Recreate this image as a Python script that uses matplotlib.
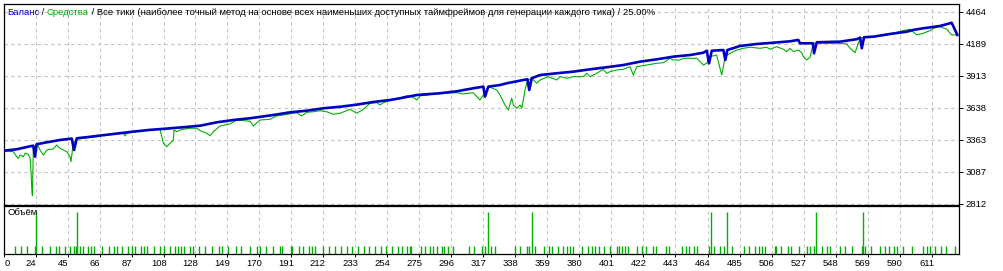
import matplotlib
matplotlib.use("Agg")
import matplotlib.pyplot as plt
import matplotlib.transforms as mtransforms

plt.rcParams['font.family'] = ['Liberation Sans', 'DejaVu Sans']

# balance curve (trade number, deposit)
bal_trade = [3, 11.3, 21.2, 22.2, 23.3, 24.4, 31, 39.7, 47.4, 48.9,
             50.7, 57.2, 65.9, 76.9, 87.7, 98.7, 109.6, 120.5, 131.5, 142.4,
             153.3, 164.2, 168.6, 179.5, 190.4, 201.4, 212.3, 223.2, 234.1, 245,
             256, 262.5, 273.5, 288.7, 299.7, 310.5, 317.1, 318.2, 320.4, 328,
             332.4, 343.3, 346, 347.2, 348.8, 354.3, 365.2, 376.1, 387, 398,
             408.9, 419.8, 430.7, 441.6, 452.6, 461.3, 463.5, 465, 466.8, 474.4,
             475.7, 477, 485.3, 496.3, 507.1, 518.1, 523.5, 524.6, 533.1, 533.8,
             535.6, 550.8, 561.8, 564, 565.1, 566.6, 572.7, 583.6, 594.6, 598.9,
             605.4, 616.4, 622.9, 624, 627.7]
bal_value = [3268, 3280, 3309, 3311, 3217, 3323, 3340, 3360, 3372, 3274,
             3375, 3384, 3398, 3415, 3432, 3447, 3458, 3470, 3483, 3512,
             3532, 3547, 3555, 3575, 3598, 3612, 3633, 3646, 3664, 3687,
             3704, 3719, 3747, 3762, 3779, 3805, 3819, 3733, 3819, 3833,
             3848, 3876, 3882, 3790, 3891, 3919, 3934, 3948, 3968, 3986,
             4005, 4034, 4054, 4077, 4091, 4111, 4128, 4020, 4128, 4134,
             4048, 4134, 4169, 4186, 4197, 4209, 4221, 4192, 4192, 4106,
             4201, 4206, 4227, 4240, 4149, 4244, 4249, 4272, 4292, 4307,
             4321, 4341, 4364, 4369, 4264]

# equity curve
eq_trade = [3, 9.1, 11.3, 12.4, 13.5, 15.7, 16.8, 18.9, 20.1, 20.7,
            21.2, 21.6, 22.2, 23.3, 24.4, 26.6, 28.8, 31, 33.2, 35.3,
            37.5, 39.7, 41.9, 44.1, 46.3, 46.9, 48.4, 50.7, 57.2, 63.8,
            65.9, 72.5, 76.9, 81.2, 82.3, 83.4, 87.7, 98.7, 105.2, 106.8,
            107.4, 109.6, 111.8, 114, 114.4, 116.2, 118.3, 120.5, 124.9, 129.3,
            131.5, 135.8, 138, 140.2, 144.6, 151.1, 155.5, 164.2, 166.4, 170.8,
            177.3, 181.7, 186.1, 194.8, 197, 198.1, 201.4, 205.7, 210.1, 214.5,
            218.8, 223.2, 227.6, 229.8, 234.1, 238.5, 242.9, 247.2, 249.4, 251.6,
            258.1, 262.5, 266.9, 271.2, 273.5, 275.6, 280, 288.7, 299.7, 304,
            310.5, 314.9, 317.1, 320.4, 321.5, 325.9, 328, 331.3, 333.5, 335.7,
            336.8, 339, 341.2, 342.3, 343.3, 344.4, 345.5, 346.6, 348.8, 352.1,
            354.3, 359.7, 365.2, 367.4, 371.8, 376.1, 382.6, 384.9, 387, 391.4,
            395.7, 398, 400.1, 404.5, 408.9, 413.2, 415.4, 417.6, 424.2, 430.7,
            435.1, 439.5, 441.6, 446, 448.2, 456.9, 461.3, 463.5, 465.7, 470,
            472.2, 473.3, 474.4, 475.5, 478.8, 483.2, 487.5, 491.9, 498.4, 502.8,
            505, 509.4, 513.7, 515.9, 518.1, 520.3, 523.5, 525.7, 526.8, 529,
            531.2, 532.3, 533.4, 535.6, 539.9, 550.8, 555.2, 557.4, 560.7, 562.8,
            564, 566.1, 572.7, 583.6, 592.3, 596.7, 601.1, 605.4, 609.8, 612,
            616.4, 620.8, 624, 627.3]
eq_value = [3268, 3259, 3216, 3202, 3231, 3216, 3246, 3237, 3202, 3087,
            2944, 2881, 3274, 3302, 3331, 3274, 3231, 3274, 3280, 3283,
            3317, 3288, 3274, 3259, 3216, 3173, 3331, 3366, 3380, 3388,
            3403, 3409, 3418, 3418, 3395, 3418, 3429, 3447, 3452, 3366,
            3332, 3302, 3332, 3360, 3446, 3431, 3446, 3452, 3461, 3461,
            3440, 3418, 3397, 3431, 3481, 3498, 3532, 3521, 3481, 3532,
            3538, 3567, 3575, 3595, 3575, 3567, 3598, 3603, 3612, 3603,
            3581, 3590, 3612, 3624, 3590, 3624, 3676, 3681, 3661, 3681,
            3710, 3719, 3741, 3727, 3704, 3739, 3747, 3762, 3767, 3756,
            3767, 3704, 3747, 3819, 3814, 3790, 3747, 3661, 3618, 3719,
            3661, 3633, 3661, 3633, 3704, 3790, 3848, 3876, 3891, 3848,
            3876, 3905, 3876, 3905, 3891, 3905, 3905, 3934, 3905, 3934,
            3968, 3934, 3948, 3962, 3968, 3991, 3919, 3991, 4005, 4020,
            4025, 4063, 4048, 4048, 4063, 4063, 4005, 4020, 4077, 4091,
            3977, 3919, 3991, 4077, 4106, 4134, 4149, 4158, 4149, 4158,
            4141, 4163, 4141, 4120, 4149, 4120, 4134, 4111, 4077, 4048,
            4072, 4134, 4192, 4192, 4192, 4192, 4186, 4149, 4111, 4192,
            4235, 4244, 4249, 4272, 4301, 4313, 4264, 4278, 4301, 4321,
            4335, 4313, 4264, 4264]

# volume (lots) per trade
vol_small_trades = [10, 14, 18, 23, 28, 33, 37, 39, 43, 46, 49, 50, 53, 55, 58, 60, 62, 67,
                    72, 75, 77, 80, 84, 87, 89, 93, 95, 97, 101, 105, 108, 112, 115, 117,
                    119, 121, 125, 127, 131, 135, 139, 144, 146, 150, 155, 158, 164, 169,
                    171, 175, 179, 184, 185, 191, 192, 196, 199, 203, 205, 207, 212, 216,
                    220, 224, 228, 231, 235, 239, 242, 246, 250, 253, 257, 261, 264, 267,
                    269, 270, 276, 279, 282, 284, 287, 290, 291, 294, 297, 308, 311, 316,
                    318, 322, 325, 338, 341, 346, 347, 351, 357, 360, 362, 366, 369, 372,
                    374, 376, 382, 386, 388, 390, 393, 396, 400, 405, 406, 408, 410, 412,
                    418, 421, 424, 428, 430, 437, 439, 447, 450, 452, 455, 457, 465, 468,
                    472, 475, 480, 488, 491, 495, 498, 500, 502, 508, 509, 512, 517, 519,
                    524, 529, 531, 534, 539, 542, 544, 551, 554, 559, 565, 567, 571, 577,
                    580, 583, 586, 588, 592, 598, 605, 608, 610, 613, 617, 620, 626]
vol_tall_trades = [24, 51, 320, 349, 466, 477, 535, 566]
small_lot = 0.1
tall_lot = 0.57

x_ticks = [3, 24, 45, 66, 87, 108, 128, 149, 170, 191, 212, 233, 254, 275, 296,
           317, 338, 359, 380, 401, 422, 443, 464, 485, 506, 527, 548, 569, 590, 611]
x_labels = ["0"] + [str(t) for t in x_ticks[1:]]
y_ticks = [2812, 3087, 3363, 3638, 3913, 4189, 4464]

title_parts = [("Баланс", "#0000C8"), (" / ", "black"), ("Средства", "#00B000"),
               (" / Все тики (наиболее точный метод на основе всех наименьших доступных "
                "таймфреймов для генерации каждого тика) / 25.00%", "black")]

W, H = 1004, 271
fs = 6.8
grid_kw = dict(color="#C4C4C4", linestyle=(0, (3, 3)), linewidth=0.8)

fig = plt.figure(figsize=(W / 100, H / 100), dpi=100)
ax = fig.add_axes([4 / W, (H - 204.5) / H, 955 / W, 200.5 / H])
vax = fig.add_axes([4 / W, (H - 253.5) / H, 955 / W, 47.5 / H])

ax.plot(eq_trade, eq_value, color="#00B000", lw=0.8, zorder=3)
ax.plot(bal_trade, bal_value, color="#0000C0", lw=1.9, zorder=4)
ax.set_xlim(3, 628.8)
ax.set_ylim(2805, 4530)
ax.set_xticks(x_ticks)
ax.set_yticks(y_ticks)
ax.yaxis.tick_right()
ax.tick_params(axis="y", length=3, width=0.7, pad=2, labelsize=fs)
ax.tick_params(axis="x", length=0, labelbottom=False)
ax.grid(True, **grid_kw)
ax.set_axisbelow(True)

vax.vlines(vol_small_trades, 0, small_lot, color="#00B000", lw=1.0)
vax.vlines(vol_tall_trades, 0, tall_lot, color="#00B000", lw=1.0)
vax.set_xlim(3, 628.8)
vax.set_ylim(0, 0.65)
vax.set_yticks([])
vax.set_xticks(x_ticks, x_labels)
vax.tick_params(axis="x", length=2, width=0.7, pad=2, labelsize=fs)
vax.grid(True, axis="x", **grid_kw)
vax.set_axisbelow(True)
vax.text(0.004, 0.86, "Объём", transform=vax.transAxes, fontsize=fs,
         ha="left", va="center")

for a in (ax, vax):
    for s in a.spines.values():
        s.set_linewidth(0.9)
        s.set_color("black")

# MT4 draws x labels a little left of the grid line, first one at the edge
for i, lab in enumerate(vax.get_xticklabels()):
    if i == 0:
        lab.set_ha("left")
        shift = mtransforms.ScaledTranslation(0.01, 0, fig.dpi_scale_trans)
    else:
        shift = mtransforms.ScaledTranslation(-0.05, 0, fig.dpi_scale_trans)
    lab.set_transform(lab.get_transform() + shift)

# multi-coloured header line
prev = ax.text(0.003, 0.96, title_parts[0][0], transform=ax.transAxes,
               color=title_parts[0][1], fontsize=fs, ha="left", va="center", zorder=6)
for txt, col in title_parts[1:]:
    prev = ax.annotate(txt, xy=(1, 0), xycoords=prev, color=col, fontsize=fs,
                       ha="left", va="bottom", zorder=6)

fig.savefig("out.png", dpi=100)
